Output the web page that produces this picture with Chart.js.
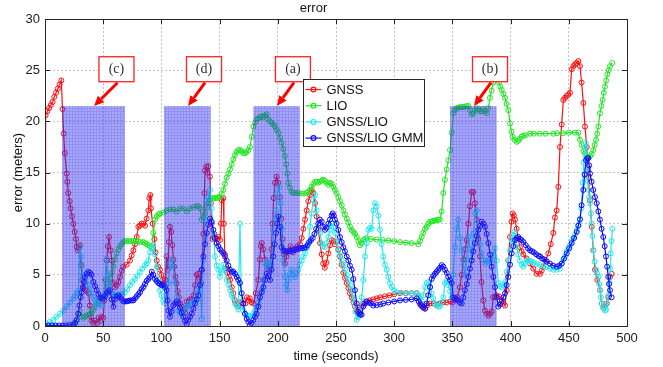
<!DOCTYPE html>
<html>
<head>
<meta charset="utf-8">
<script src="https://cdn.jsdelivr.net/npm/chart.js@4.4.0/dist/chart.umd.min.js"></script>
<style>
  html, body { margin: 0; padding: 0; background: #fff; }
</style>
</head>
<body>
<canvas id="myChart" width="663" height="367"></canvas>
<script>
// [time (s), error (m)]
var gnssPts = [[0,0],[0.5,20.6],[2,21.0],[3.5,21.3],[5,21.6],[6.5,21.9],[8,22.4],[9.5,22.8],[11,23.2],[12.5,23.6],[14,24.0],
  [15,21.2],[16,18.8],[17,16.9],[18.6,14.9],[19.2,14.1],[20,13.0],[21.2,12.2],[22,11.5],[23.2,10.7],[24.3,10.0],[25.5,9.2],
  [26.6,8.5],[27.2,7.75],[28,7.4],[29,7.6],[30,7.9],[31,6],[32,4.5],[33,3.7],[34.5,3.6],[36,3.4],[37.5,3.2],[38.5,2],[39.5,0.9],
  [40,0.5],[41.5,0.3],[43,0.5],[44.5,0.3],[46,0.8],[47.3,0.5],[48.7,0.9],[50,0.8],[51,2.5],[52,4.5],[53,6.4],[54,7.8],[55,8.7],
  [56.4,7.4],[57.3,6.4],[58.2,4.2],[60.1,3.8],[61.5,4.0],[63,4.3],[64.4,4.8],[66,5.4],[67.3,5.8],[70.2,6],[73,6.4],[74.5,6.9],
  [75.9,7.4],[77.3,8],[78.8,8.7],[80.2,9.7],[81.6,9.8],[83,10],[84.5,10],[86,9.8],[87.3,10.5],[88.8,11.3],[89.6,12.5],[90.5,12.8],
  [91,11.5],[92.5,10],[94,8.5],[95,7.2],[96,6.4],[97.3,5.8],[98.8,5.5],[100,5.0],[101,4.5],[102.3,4.2],[103.5,4.5],[104.5,6.8],
  [105.5,5.5],[106.5,8.2],[107.4,9.7],[108.4,9.2],[109.4,7.9],[110.3,6.5],[111,5.8],[112,4.8],[113,4.2],[114,3.4],[115,2.8],
  [116,2.2],[117.5,1.9],[119,1.5],[120.5,1.3],[121.7,2.4],[123,2.0],[124.5,2.6],[126,2.6],[127.5,3.0],[129,4.0],[130.3,5.0],
  [131.5,5.1],[132.6,4.6],[134,4.2],[135,5.5],[136,9],[137,13],[137.5,15.2],[138.5,15.6],[139.5,15.0],[140.3,15.6],[141.7,14.6],
  [142.5,12],[143.2,10],[144,8.5],[144.6,8.7],[145.5,9.0],[146.5,8.6],[148,8.5],[149,8.7],[150.3,8.4],[151.2,10],[151.8,12.3],
  [153.2,12.5],[153.7,10],[154.5,7],[155.5,5.6],[156.5,5.2],[158,4.8],[159,4.5],[160.5,3.8],[161.8,3.2],[163,2.5],[164.5,2.2],
  [166,1.9],[167.5,2.3],[169,2.0],[170.4,2.5],[172,2.2],[173.5,2.8],[175,2.5],[176,2.7],[177.5,2.3],[179,2.2],[181,3.2],
  [183.3,4.5],[184.5,6.5],[185.5,7.8],[186.2,8.1],[187.6,7.5],[189,6.5],[190.5,6],[191.9,5.5],[193.3,6.0],[194.5,7.5],[195.5,10],
  [196.5,12.5],[197.6,14],[199,14.6],[200.5,14],[201.9,12.6],[203,10.5],[204,8.5],[205,7],[206.2,6.1],[207.5,6.8],[209,7.3],
  [211,7.8],[213,7.2],[215,7.6],[217,7.8],[219,8.0],[220.5,8.6],[222,9.5],[223.4,10.4],[224.8,11.3],[226.2,12.2],[227.7,12.8],
  [229,13.3],[230.5,13.0],[232,12.0],[233.4,10.7],[234.8,9.4],[236.3,8.1],[237.7,7.0],[239,6.1],[240.4,5.7],[241.8,6.2],
  [243.4,7.1],[244.8,7.9],[246.3,8.4],[247.7,8.3],[249.1,8.0],[250.5,8.2],[252,7.5],[253.4,6.8],[254.9,6.0],[256.3,5.2],
  [257.7,4.7],[259.2,4.2],[260.6,3.7],[262,3.2],[263.5,2.8],[265,2.3],[266.3,1.9],[267.8,1.5],[269.2,1.2],[270.6,1.6],[272,1.9],
  [273.5,2.2],[276,2.4],[279,2.5],[282,2.6],[285,2.7],[288,2.8],[292,2.9],[296,3.0],[300,3.1],[305,3.2],[310,3.2],[315,3.2],
  [319.3,3.2],[321,2.8],[322.5,2.2],[324,1.9],[326.5,1.7],[328,2.0],[330.8,2.2],[334,2.2],[337,2.1],[339.4,2.2],[342,2.3],
  [345,2.3],[348,2.4],[350,2.3],[352,2.5],[354,2.8],[356.5,3.8],[358,5],[359.5,6.5],[361,7.5],[362.3,8.4],[363.7,10],[365.1,11.7],
  [366.6,13.1],[368,13.1],[369.4,12],[370.9,10.4],[372.3,8.5],[373.7,6.8],[375,4.3],[376.5,2.5],[378,1.5],[379.5,1.2],[381,1.0],
  [382.3,1.2],[383.8,1.4],[385.1,2.8],[386.6,2.9],[388,3.0],[390,2.9],[392.3,2.6],[394,2.2],[395.2,2.0],[396.6,3.5],[398,6.4],
  [399.5,8.7],[400.8,10.2],[401.8,11.0],[402.8,10.8],[403.8,10.4],[405.2,9.5],[406.6,8.5],[408,7.7],[409.5,7.3],[410.9,7.0],
  [413.8,6.6],[416.7,6.1],[419.5,5.6],[422.4,5.1],[425.3,5.1],[426.7,5.4],[428,5.8],[430,6.4],[432.4,7.1],[434.5,8.0],[436.7,9.1],
  [438.1,10.6],[439.6,11.3],[441,13.6],[442.4,17.5],[443.9,19.7],[445.3,22.1],[446.7,22.3],[448.2,22.5],[449.6,22.6],[451,22.8],
  [452.5,25.1],[454,25.4],[455.3,25.6],[456.8,25.7],[458.2,25.9],[459.6,25.4],[461,23.8],[462.5,21.8],[463.9,19.5],[465.4,17.5],
  [466.8,14.6],[468.2,12.3],[469.7,9.7],[471,7.4],[472.5,5.5],[474.5,4.5],[476.8,3.5],[478.3,2.2],[479.7,1.8],[481.1,1.9],
  [482.5,2.2],[484,2.8],[485.4,4.8],[486.8,5.1]];

var lioPts = [[0,0],[5,0],[10,0],[15,0],[20,0],[25,0.1],[27,0.5],[28.6,1.2],[30,1.4],[31.5,0.9],[33,0.8],[34.4,0.9],[36,1.0],
  [37.5,1.1],[38.7,1.2],[40,1.3],[41.5,1.6],[43,1.9],[44.4,2.2],[46,2.4],[47.3,2.5],[48.7,2.6],[50.1,2.8],[51.5,3.1],[53,3.6],
  [54.4,4.2],[55.8,4.7],[57.3,5.2],[58.7,5.8],[60.1,6.5],[61.6,7.1],[63,7.5],[64.4,7.8],[65.8,8.0],[67.3,8.2],[68.7,8.3],[70,8.3],
  [72,8.3],[74,8.3],[76,8.3],[78,8.3],[80,8.25],[82,8.2],[84.5,8.2],[86,8.1],[87.4,8.0],[88.8,7.9],[90.2,7.8],[91.6,7.7],[93,9.1],
  [94.5,10.4],[96,10.7],[97.4,10.9],[98.8,11.0],[101.6,11.1],[104.5,11.3],[107.4,11.4],[110.3,11.4],[113,11.2],[116,11.5],
  [118.8,11.5],[121.7,11.2],[124.6,11.5],[127.5,11.6],[130.3,11.7],[131.7,11.7],[133.2,11.5],[134.6,10.4],[136,10.6],[137.5,11.0],
  [139,11.6],[140.3,12.1],[141.8,12.3],[143.2,12.5],[144.6,12.5],[146,12.5],[147.5,12.5],[149,12.6],[150.3,12.6],[151.8,12.9],
  [153.2,13.3],[154.6,13.9],[156.1,14.5],[157.5,14.9],[159,15.3],[160.4,15.8],[161.8,16.3],[163.2,16.7],[164.6,17.0],[166,17.2],
  [167.5,17.2],[168.9,17.1],[170.4,16.9],[171.8,16.9],[173.2,17.0],[174.7,17.2],[176.1,17.5],[177.6,18.5],[179,19.5],[180.5,19.9],
  [181.9,20.2],[183.3,20.3],[184.8,20.4],[186.2,20.5],[187.6,20.4],[189,20.6],[190.5,20.7],[191.9,20.2],[193.3,20.0],[194.7,19.9],
  [196.1,19.7],[197.5,19.5],[199,19.2],[200.5,18.9],[201.9,18.4],[203.3,17.9],[204.7,17.3],[206.2,16.6],[207.2,15.8],[208.2,14.9],
  [209,14.0],[210.5,13.5],[211.9,13.1],[213.3,13.0],[215,13.0],[217.6,13.0],[220,12.95],[222.5,12.95],[224.8,13.0],[226.2,13.1],
  [227.7,13.3],[229,13.6],[230.5,13.9],[232,14.1],[233.4,14.1],[234.8,14.0],[236.3,14.1],[237.7,14.2],[239,14.3],[240.5,14.2],
  [241.9,14.0],[243.4,13.8],[244.8,14.0],[246.3,13.9],[247.7,13.6],[249.1,13.3],[250.6,13.0],[252,12.6],[253.4,12.2],[254.9,11.8],
  [256.3,11.3],[257.7,10.9],[259.2,10.5],[260.6,10.1],[262,9.7],[263.5,9.4],[264.9,9.2],[266.3,9.0],[267.8,8.7],[269.2,8.3],
  [270.6,7.9],[272,8.1],[273.5,8.4],[275,8.5],[276.4,8.6],[280,8.5],[285,8.45],[290,8.4],[295,8.35],[300,8.3],[305,8.2],[310,8.15],
  [315,8.1],[320.7,8.0],[322.2,8.3],[323.6,8.7],[325,9.1],[326.5,9.5],[327.9,9.7],[329.4,10.0],[330.8,10.2],[332.2,10.2],
  [333.7,10.3],[335,10.3],[336.5,10.35],[338,10.4],[339.3,10.4],[340.8,11.2],[342.2,13.0],[343.6,14.3],[345.1,15.3],[346.5,16.2],
  [348,17.2],[349.4,18.9],[350.8,20.8],[352.2,21.1],[353.7,21.3],[355,21.35],[356.5,21.4],[358,21.4],[359.4,21.4],[360.8,21.45],
  [362.3,21.5],[363.7,21.5],[365.1,21.1],[366.6,20.7],[368,20.8],[369.4,21.1],[370.9,21.3],[372.3,21.2],[373.7,21.0],[375.2,21.0],
  [376.6,21.2],[378,21.0],[379.5,20.8],[380.9,21.3],[382.3,22.3],[383.7,23.0],[385.1,23.8],[386.6,24.2],[388,24.4],[389,24.2],
  [390,23.8],[391.2,23.4],[392.3,23.1],[393.8,22.7],[395.2,22.3],[396.6,21.7],[398,21.1],[399.5,19.8],[400.8,19.0],[401.8,18.5],
  [403.4,18.2],[405.2,18.0],[406.6,18.1],[408,18.3],[409.5,18.5],[411,18.6],[413,18.65],[416.7,18.8],[420,18.8],[425,18.8],
  [430,18.8],[436.7,18.8],[440,18.85],[445,18.85],[450,18.9],[455,18.9],[458.2,18.9],[459.6,18.2],[461,17.7],[462.5,17.1],
  [464,16.8],[465.4,16.6],[466.8,16.5],[468.2,16.6],[469.6,16.8],[471,17.2],[472.2,17.7],[473.4,18.2],[474.4,18.8],[475.4,19.5],
  [476.8,20.8],[478,21.5],[479.1,22.1],[480.1,22.8],[481.1,23.4],[482.1,24.0],[483.1,24.6],[484.3,25.0],[485.4,25.4],[487.4,25.7]];

var fusedPts = [[0,0],[1.5,0.2],[4,0.4],[7.1,0.6],[10,0.9],[12.9,1.2],[15.7,1.5],[18.6,1.9],[21.5,2.3],[24.3,2.7],[25.7,2.9],
  [27.2,3.2],[28.6,3.4],[30,7.7],[31,6.8],[31.5,5.8],[32.5,5.0],[33.5,4.6],[35,4.3],[36.5,4.0],[38,3.6],[39.5,3.2],[41.5,2.8],
  [43,2.5],[44.4,2.2],[46,2.1],[48.7,2.0],[50,2.8],[51.5,4.5],[53,6.6],[54,5],[55.5,4.0],[57.3,3.2],[58.7,3.1],[60.1,3.0],[62,3.0],
  [64.4,3.0],[66.5,3.1],[68.7,3.3],[70.8,3.6],[73,4.0],[75,4.3],[77.3,4.6],[79.5,4.9],[81.6,5.3],[83.5,5.6],[85.9,5.9],[87.3,6.1],
  [88.7,6.4],[90.2,7.2],[91.7,7.6],[93,7.9],[94.5,7.0],[96,5.8],[97.4,4.5],[98.8,3.5],[100.2,3.0],[101.6,2.5],[103,2.2],[104.5,3.0],
  [106,4.2],[107.4,6.1],[108.8,6.5],[110.2,5.8],[111.7,4.3],[113.1,2.8],[114.5,1.5],[116,1.3],[117.4,1.2],[118.8,1.2],[120.3,1.6],
  [121.7,1.9],[123.2,2.0],[124.6,2.2],[126,2.3],[127.5,2.4],[128.9,2.5],[130.3,3.2],[131.7,3.8],[133.2,4.2],[134.6,0.7],[136,6.4],
  [137.5,10.4],[138.9,12.2],[140.3,12.6],[141.8,13.3],[143.2,11.5],[144.6,9.0],[146,6.8],[147.5,5.9],[148.9,5.5],[150.3,4.8],
  [151.8,5.4],[153.2,6.0],[154.6,5.5],[156.1,4.5],[157.5,4.0],[159,3.5],[160.4,3.0],[161.8,2.8],[163.2,2.2],[164.7,2.0],[166,1.6],
  [167.5,10.0],[168.9,2.0],[170.4,1.5],[171.8,1.2],[173.2,1.0],[174.7,1.0],[176.1,0.9],[177.5,1.0],[179,1.2],[180.4,1.5],[181.9,1.9],
  [183.3,2.3],[184.7,2.8],[186.2,3.5],[187.6,4.5],[189,6.1],[190.5,6.0],[191.9,6.4],[193.3,5.5],[194.7,6.0],[196.1,9.4],[197.3,10.5],
  [198.5,11.3],[199.6,13.0],[201.3,13.6],[202.5,12.0],[203.5,9.5],[204.7,6.4],[206.2,4.8],[207.2,4.0],[208.2,3.5],[209.3,4.5],
  [210.5,5.1],[211.9,5.5],[213.3,5.0],[214.8,4.8],[216.2,5.1],[217.6,5.5],[219,6.0],[220.5,6.4],[222,6.8],[223.4,7.1],[224.8,7.6],
  [226.2,8.1],[227.7,9.7],[229,11.0],[230.5,12.3],[232,12.8],[233.4,11.3],[234.8,10.0],[236.3,9.1],[237.7,8.1],[239,7.8],
  [240.5,7.7],[241.9,8.1],[243.4,8.7],[244.8,9.4],[246.3,10.0],[247.7,9.7],[249.1,9.1],[250.6,8.2],[252,7.4],[253.5,6.9],
  [254.9,6.4],[256.3,6.0],[257.7,5.5],[259.2,5.0],[260.6,4.5],[262,4.0],[263.5,3.5],[264.5,2.8],[265.5,2.2],[266.7,1.4],[267.8,0.6],
  [269.2,0.9],[270.6,1.5],[272,2.8],[273.5,4.5],[274.9,6.8],[276.4,8.1],[277.8,9.4],[279.2,9.6],[280.7,9.5],[282.1,11.3],[283.5,12.0],
  [285,11.7],[286.4,10.8],[287.8,9.4],[289.2,8.0],[290.6,6.8],[292,6.0],[293.6,5.5],[295,4.8],[296.4,4.2],[298,3.8],[300,3.5],
  [302.1,3.3],[306,3.25],[310.7,3.2],[315,3.2],[319.3,3.2],[321,3.0],[323.6,2.5],[325,3.0],[326.5,3.8],[328,4.2],[329.4,4.3],
  [330.8,3.8],[332.2,3.2],[333.6,2.7],[335,2.2],[336.5,2.0],[337.9,1.9],[339.3,1.9],[340.8,2.3],[342.2,2.8],[343.6,4.2],[345,4.4],
  [346.5,4.0],[348,3.4],[349.4,2.8],[350.8,5.0],[352.2,7.7],[353.7,9.5],[355,10.4],[356.5,8.6],[358,7.4],[359.4,6.0],[360.8,5.0],
  [362.3,6.5],[363.7,8.7],[365.1,7.5],[366.6,6.4],[368,9.0],[369.4,11.0],[370.9,11.3],[372.3,9.4],[373.7,8.0],[375.2,7.1],
  [376.6,6.5],[378,6.1],[379.5,6.3],[380.9,6.4],[382.3,6.5],[383.7,6.2],[385.2,6.9],[386.6,7.6],[388,6.4],[389.5,4.2],[390.9,3.9],
  [392.3,3.8],[393.8,4.0],[395.2,4.3],[396.6,5.3],[398,6.4],[399.5,7.4],[400.9,8.4],[402,8.9],[403.2,9.2],[404.2,8.4],[405.2,7.7],
  [406.6,7.0],[408,6.4],[409.5,6.0],[410.9,5.8],[412.4,6.1],[413.8,6.4],[415.2,6.4],[416.7,6.4],[418,6.3],[420,6.2],[422.5,6.05],
  [425.3,5.95],[428,5.85],[431,5.75],[434,5.6],[436.7,5.5],[439.5,5.5],[442.4,5.6],[443.9,6.1],[445.3,6.5],[446.7,6.8],[448.2,7.3],
  [449.6,7.6],[451,7.9],[452.5,8.3],[453.9,8.6],[455.3,8.9],[456.8,9.4],[458.2,9.9],[459.6,10.5],[460.8,11.5],[461.9,14],
  [462.9,16],[463.9,17.5],[464.6,17.9],[465.4,15.3],[466.1,14.2],[466.8,13.3],[467.5,12.6],[468.2,12.0],[469,11],[469.7,10.0],
  [470.3,8.8],[471,7.4],[472.2,6.3],[473.4,5.5],[474.4,5.1],[475.4,4.8],[476.1,4.1],[476.8,3.5],[477.6,2.8],[478.3,2.2],
  [479.7,1.8],[481.1,1.5],[482,1.6],[483,2.2],[484,3.0],[484.9,4.2],[485.5,5.6],[486,7.1],[486.7,8.3],[487.4,9.5]];

var gmmPts = [[0,0],[3,0.05],[6,0.05],[9,0.05],[12,0.05],[15,0.05],[18,0.05],[21,0.1],[24,0.1],[25.8,0.3],[27.2,0.6],[28.6,1.2],
  [29.6,2.0],[30.6,2.8],[31.5,3.3],[32.4,3.8],[33.4,4.3],[34.4,4.8],[35.8,5.1],[37.2,5.3],[38.7,5.2],[40.1,5.0],[41.5,4.3],[43,3.9],
  [44.4,3.5],[45.9,3.1],[47.3,2.8],[48.7,2.7],[50.1,2.7],[51.5,2.9],[53,3.2],[54.4,3.4],[55.8,3.5],[57.3,2.6],[58.7,1.9],[60.1,2.6],
  [61.5,2.9],[63,3.0],[64.4,2.8],[65.9,2.6],[67.3,2.4],[68.7,2.4],[70.1,2.4],[71.6,2.45],[73,2.5],[74.5,2.5],[75.9,2.5],[77.3,2.7],
  [78.8,2.9],[80.2,3.1],[81.6,3.3],[83,3.6],[84.5,3.8],[85.9,4.1],[87.3,4.4],[88.8,4.6],[90.2,4.8],[91.7,5.3],[93.1,5.0],[94.5,4.6],
  [95.9,4.4],[97.3,4.2],[98.8,4.1],[100.2,4.0],[101.6,4.0],[103,3.8],[104.5,3.5],[105.3,2.5],[106,1.5],[107.4,0.9],[108.8,1.4],
  [110.2,2.0],[111.7,2.2],[113.1,2.4],[114.5,2.2],[116,1.8],[117.4,1.3],[118.8,0.9],[120.3,0.5],[121.7,0.2],[123.2,0.6],[124.6,0.9],
  [126,1.2],[127.5,1.7],[128.9,2.2],[130.3,2.6],[131.7,3.0],[133.2,4.0],[134.6,5.5],[136,6.8],[137.5,8.0],[138.9,9.1],[140.3,9.9],
  [141.8,10.5],[143.2,10.2],[144.6,9.4],[146,8.6],[147.5,8.1],[148.9,7.8],[150.3,7.5],[151.8,7.3],[153.2,7.1],[154.6,6.8],
  [156.1,6.4],[157.5,5.9],[159,5.5],[160.4,5.3],[161.8,5.3],[163.2,5.1],[164.7,4.8],[166,4.5],[167.5,4.2],[169,3.2],[170.4,2.2],
  [171.8,1.2],[173.3,0.7],[174.7,0.4],[176.1,0.1],[177.5,0.3],[179,0.6],[180.4,0.9],[181.9,1.2],[183.3,1.9],[184.7,2.8],[186.2,3.3],
  [187.6,3.8],[189,4.5],[190.5,5.1],[191.9,4.9],[193.3,4.5],[194.7,5.5],[196.1,6.8],[197.3,8.0],[198.5,9.1],[199.6,10.0],
  [200.5,10.7],[201.9,9.7],[203.3,7.7],[204.7,7.4],[206.2,7.3],[207.6,7.3],[209,7.3],[210.5,7.3],[212,7.35],[213.5,7.4],[215,7.45],
  [216.5,7.5],[218,7.55],[219.5,7.6],[221,7.6],[222.5,7.65],[224,7.7],[225.5,7.9],[227,8.2],[228.5,8.4],[230,8.6],[231.5,9.0],
  [233,9.5],[234.8,10.0],[236.2,10.4],[237.7,10.2],[239,9.7],[240.5,9.4],[241.9,9.6],[243.4,10.0],[244.8,10.4],[246.3,10.8],
  [247.2,11.0],[248.1,10.8],[249.1,10.4],[250.5,10.0],[252,9.4],[253.4,8.7],[254.9,8.2],[256.3,7.7],[257.7,7.3],[259.2,6.8],
  [260.6,6.4],[262,5.9],[263.5,5.5],[264.9,4.6],[266.3,3.5],[267.8,2.2],[269,1.4],[270,1.2],[271,1.1],[272,1.1],[273.5,1.9],
  [275,2.2],[276.4,2.4],[278,2.3],[280,2.2],[282.1,2.0],[285,2.05],[288,2.1],[290.6,2.2],[295,2.3],[300,2.4],[305,2.5],[310,2.55],
  [315,2.6],[319.3,2.7],[321,2.4],[322.4,2.1],[323.6,2.0],[325,1.8],[326.5,1.7],[327.9,2.2],[329.3,3.0],[330.8,3.8],[332.2,4.6],
  [333.6,4.9],[335,5.1],[336.5,5.3],[337.9,5.5],[339.3,5.7],[340.8,5.95],[342.2,5.8],[343.6,5.5],[345.1,5.2],[346.5,4.8],[348,4.5],
  [349.4,4.2],[350.8,2.8],[352.2,2.7],[353.7,2.6],[355,2.5],[356.5,2.3],[358,2.2],[359.4,2.8],[360.8,3.5],[362.3,4.1],[363.7,4.8],
  [365.1,5.6],[366.6,6.4],[368,7.3],[369.4,8.1],[370.9,8.8],[372.3,9.4],[373.8,9.8],[375.2,10.2],[376.6,10.0],[378,9.7],[379.5,9.0],
  [380.9,8.1],[382.4,7.0],[383.8,5.8],[385.2,4.8],[386.6,3.8],[388,2.8],[389.5,1.9],[390.9,2.1],[392.3,2.4],[393.8,2.8],[395.2,3.2],
  [396.6,4.0],[398,4.8],[399.5,6.0],[400.9,7.1],[402.4,7.8],[403.8,8.4],[405.2,8.6],[406.6,8.7],[408,8.5],[409.5,8.4],[411,8.2],
  [413,7.9],[415,7.6],[416.7,7.4],[418.5,7.3],[420,7.2],[422,7.0],[424,6.85],[425.3,6.8],[427,6.6],[429,6.5],[431,6.3],[433.8,6.1],
  [436.5,5.9],[439.6,5.8],[441.8,5.9],[443.9,6.1],[446,6.6],[448.2,7.1],[450.4,7.6],[452.5,8.1],[454.6,8.6],[456.8,9.2],[458.2,9.8],
  [459.6,10.4],[461,11.8],[462.5,13.3],[463.6,14.8],[464.8,16.2],[465.8,16.4],[466.8,16.4],[467.5,15.7],[468.2,14.9],[469.6,14.1],
  [471,13.3],[472.5,12.6],[474,12.0],[475.4,11.2],[476.8,10.4],[478.2,9.5],[479.6,8.7],[480.8,7.8],[481.9,6.8],[482.9,5.8],
  [483.9,4.8],[484.6,4.1],[485.4,3.5],[486.8,2.8]];

var seriesNames = ['GNSS', 'LIO', 'GNSS/LIO', 'GNSS/LIO GMM'];
var seriesColors = ['#ff1010', '#22e622', '#22e8ee', '#0a0aff'];

// highlighted intervals (seconds) and their labels
var regionStart = [14.6, 102.2, 179, 348];
var regionEnd = [68.7, 142.4, 219, 388];
var regionTop = 21.5;
var labelText = ['(c)', '(d)', '(a)', '(b)'];
var labelT = [61.4, 136.6, 213, 382.3];
var labelV = 25.1;
var arrowTipT = [42.1, 122.9, 199.3, 368.6];

var FONT = '"Liberation Sans", Arial, Helvetica, sans-serif';

function toXY(pts) {
  return pts.map(function (p) { return { x: p[0], y: p[1] }; });
}

function makeHatch(ctx) {
  var c = document.createElement('canvas');
  c.width = 3; c.height = 3;
  var g = c.getContext('2d');
  g.fillStyle = 'rgba(50,50,245,0.42)';
  g.fillRect(0, 0, 3, 3);
  g.fillStyle = 'rgba(30,30,200,0.18)';
  g.fillRect(0, 0, 3, 1);
  g.fillRect(0, 1, 1, 2);
  return ctx.createPattern(c, 'repeat');
}

function drawArrow(ctx, x1, y1, x2, y2) {
  var ang = Math.atan2(y2 - y1, x2 - x1), hl = 10, hw = 4.5;
  var bx = x2 - hl * Math.cos(ang), by = y2 - hl * Math.sin(ang);
  ctx.beginPath();
  ctx.moveTo(x1, y1);
  ctx.lineTo(bx, by);
  ctx.lineWidth = 3;
  ctx.stroke();
  ctx.beginPath();
  ctx.moveTo(x2, y2);
  ctx.lineTo(bx + hw * Math.sin(ang), by - hw * Math.cos(ang));
  ctx.lineTo(bx - hw * Math.sin(ang), by + hw * Math.cos(ang));
  ctx.closePath();
  ctx.fill();
}

// shaded intervals, label boxes, axes box with inner ticks
var overlayPlugin = {
  id: 'overlay',
  afterDatasetsDraw: function (chart) {
    var ctx = chart.ctx, a = chart.chartArea;
    var xs = chart.scales.x, ys = chart.scales.y;
    ctx.save();
    ctx.fillStyle = makeHatch(ctx);
    for (var i = 0; i < regionStart.length; i++) {
      var x1 = xs.getPixelForValue(regionStart[i]);
      var x2 = xs.getPixelForValue(regionEnd[i]);
      var yt = ys.getPixelForValue(regionTop);
      var yb = ys.getPixelForValue(0);
      ctx.fillRect(x1, yt, x2 - x1, yb - yt);
    }
    // label boxes + arrows
    for (var j = 0; j < labelText.length; j++) {
      var cx = xs.getPixelForValue(labelT[j]);
      var cy = ys.getPixelForValue(labelV);
      var bw = 35, bh = 25;
      ctx.fillStyle = '#ffffff';
      ctx.fillRect(cx - bw / 2, cy - bh / 2, bw, bh);
      ctx.strokeStyle = '#ff2020';
      ctx.lineWidth = 1.3;
      ctx.strokeRect(cx - bw / 2, cy - bh / 2, bw, bh);
      ctx.fillStyle = '#333';
      ctx.font = '14px "Liberation Serif", "Times New Roman", serif';
      ctx.textAlign = 'center';
      ctx.textBaseline = 'middle';
      ctx.fillText(labelText[j], cx, cy);
      ctx.strokeStyle = '#ff0000';
      ctx.fillStyle = '#ff0000';
      drawArrow(ctx, cx + 1, cy + bh / 2 + 1, xs.getPixelForValue(arrowTipT[j]), ys.getPixelForValue(regionTop));
    }
    // frame
    ctx.strokeStyle = '#262626';
    ctx.lineWidth = 1;
    ctx.strokeRect(Math.round(a.left) + 0.5, Math.round(a.top) + 0.5, Math.round(a.right - a.left), Math.round(a.bottom - a.top));
    // inward ticks
    ctx.beginPath();
    xs.ticks.forEach(function (t) {
      var px = Math.round(xs.getPixelForValue(t.value)) + 0.5;
      ctx.moveTo(px, a.bottom); ctx.lineTo(px, a.bottom - 5);
      ctx.moveTo(px, a.top); ctx.lineTo(px, a.top + 5);
    });
    ys.ticks.forEach(function (t) {
      var py = Math.round(ys.getPixelForValue(t.value)) + 0.5;
      ctx.moveTo(a.left, py); ctx.lineTo(a.left + 5, py);
      ctx.moveTo(a.right, py); ctx.lineTo(a.right - 5, py);
    });
    ctx.stroke();
    ctx.restore();
  }
};

// boxed legend inside the axes, like MATLAB
var legendPlugin = {
  id: 'boxLegend',
  afterDraw: function (chart) {
    var ctx = chart.ctx, a = chart.chartArea;
    var x0 = Math.round(a.left + 258) + 0.5, y0 = Math.round(a.top + 60) + 0.5, w = 121, h = 67;
    ctx.save();
    ctx.fillStyle = '#ffffff';
    ctx.fillRect(x0, y0, w, h);
    ctx.strokeStyle = '#262626';
    ctx.lineWidth = 1;
    ctx.strokeRect(x0, y0, w, h);
    ctx.font = '13px ' + FONT;
    ctx.textBaseline = 'middle';
    ctx.textAlign = 'left';
    chart.data.datasets.forEach(function (ds, i) {
      var y = y0 + 10 + i * 16.2;
      ctx.strokeStyle = ds.borderColor;
      ctx.lineWidth = 1.2;
      ctx.beginPath();
      ctx.moveTo(x0 + 2, y); ctx.lineTo(x0 + 18, y);
      ctx.stroke();
      ctx.beginPath();
      ctx.arc(x0 + 10, y, 2.4, 0, Math.PI * 2);
      ctx.stroke();
      ctx.fillStyle = '#111';
      ctx.fillText(ds.label, x0 + 23, y + 0.5);
    });
    ctx.restore();
  }
};

function makeSet(i, pts, order) {
  return {
    label: seriesNames[i],
    data: toXY(pts),
    borderColor: seriesColors[i],
    backgroundColor: seriesColors[i],
    pointBorderColor: seriesColors[i],
    pointBackgroundColor: 'rgba(0,0,0,0)',
    pointRadius: 2.5,
    pointBorderWidth: 1,
    borderWidth: 1.2,
    tension: 0,
    order: order
  };
}

var ctx = document.getElementById('myChart').getContext('2d');
var myChart = new Chart(ctx, {
  type: 'line',
  data: {
    datasets: [
      makeSet(0, gnssPts, 4),
      makeSet(1, lioPts, 3),
      makeSet(2, fusedPts, 2),
      makeSet(3, gmmPts, 1)
    ]
  },
  options: {
    responsive: false,
    animation: false,
    devicePixelRatio: 1,
    layout: { padding: { left: 0, right: 36, top: 0, bottom: 0 } },
    plugins: {
      legend: { display: false },
      tooltip: { enabled: false },
      title: {
        display: true,
        text: 'error',
        color: '#111',
        font: { size: 13, weight: 'normal', family: FONT },
        padding: { top: 0.5, bottom: 3 }
      }
    },
    scales: {
      x: {
        type: 'linear',
        min: 0, max: 500,
        afterFit: function (s) { s.height = 41; },
        ticks: { stepSize: 50, padding: 5, color: '#222', font: { size: 13, family: FONT }, maxRotation: 0 },
        grid: { color: '#c4c4c4', drawTicks: false, lineWidth: 1 },
        border: { display: false, dash: [2, 2] },
        title: { display: true, text: 'time (seconds)', color: '#111', font: { size: 13, family: FONT }, padding: { top: 0, bottom: 3 } }
      },
      y: {
        min: 0, max: 30,
        afterFit: function (s) { s.width = 45; },
        ticks: { stepSize: 5, padding: 5, color: '#222', font: { size: 13, family: FONT } },
        grid: { color: '#c4c4c4', drawTicks: false, lineWidth: 1 },
        border: { display: false, dash: [2, 2] },
        title: { display: true, text: 'error (meters)', color: '#111', font: { size: 13, family: FONT }, padding: { top: 10.5, bottom: 0 } }
      }
    }
  },
  plugins: [overlayPlugin, legendPlugin]
});
</script>
</body>
</html>
